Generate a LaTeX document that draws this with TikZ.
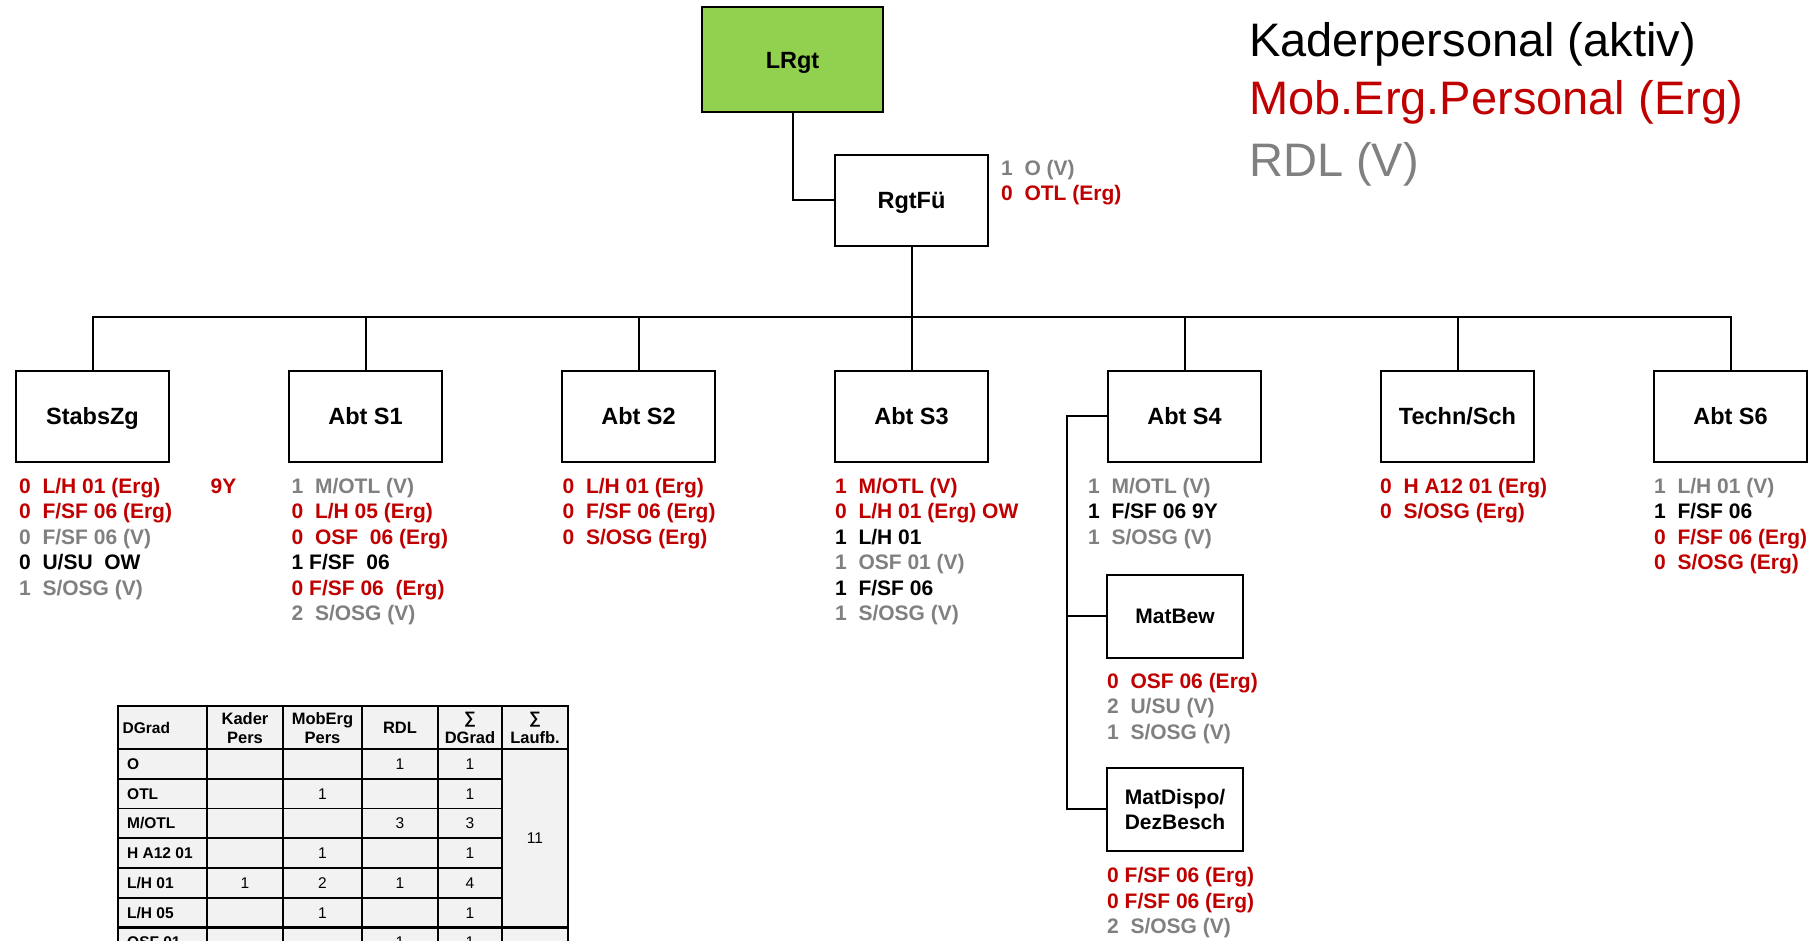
\documentclass[tikz,border=0pt]{standalone}
\usepackage{fontspec}
\setmainfont{Liberation Sans}
\definecolor{myred}{HTML}{C00000}
\definecolor{mygray}{HTML}{808080}
\definecolor{mygreen}{HTML}{92D050}
\definecolor{cellgray}{HTML}{F2F2F2}
\newcommand\Rd[1]{\textcolor{myred}{#1}}
\newcommand\Gy[1]{\textcolor{mygray}{#1}}
\newcommand\Bk[1]{\textcolor{black}{#1}}
\newcommand\tsp{\ \ }
\begin{document}
\begin{tikzpicture}[x=1pt,y=-1pt,
  conn/.style={line width=2pt, line join=miter},
  boxbase/.style={draw, line width=2pt, fill=white, inner sep=0pt, align=center},
  box/.style={boxbase, minimum width=153pt, minimum height=91pt, font=\fontsize{23.5}{26}\selectfont\bfseries, text height=17pt, text depth=0pt},
  subbox/.style={boxbase, minimum width=136pt, minimum height=83pt, font=\fontsize{21}{25}\selectfont\bfseries},
  lbl/.style={anchor=base west, inner sep=0pt, font=\fontsize{21}{25.5}\selectfont\bfseries, align=left},
  legend/.style={anchor=base west, inner sep=0pt, font=\fontsize{47}{58}\selectfont},
  thead/.style={inner sep=0pt, font=\fontsize{16.5}{19.7}\selectfont\bfseries, align=center},
  trow/.style={anchor=west, inner sep=0pt, font=\fontsize{15.5}{18}\selectfont\bfseries},
  tnum/.style={inner sep=0pt, font=\fontsize{15.5}{18}\selectfont},
]
\useasboundingbox (0,0) rectangle (1814,940);

% boxes
\node[box, fill=mygreen, minimum width=181pt, minimum height=105pt] (LRgt) at (792.5,59.5) {LRgt};
\node[box] (RgtFu) at (911.5,200) {RgtFü};
\node[box] (StabsZg) at (92.5,416) {StabsZg};
\node[box] (S1) at (365.5,416) {Abt S1};
\node[box] (S2) at (638.5,416) {Abt S2};
\node[box] (S3) at (911.5,416) {Abt S3};
\node[box] (S4) at (1184.5,416) {Abt S4};
\node[box] (Techn) at (1457.5,416) {Techn/Sch};
\node[box] (S6) at (1730.5,416) {Abt S6};
\node[subbox, text height=15pt, text depth=0pt] (MatBew) at (1175,616) {MatBew};
\node[subbox] (MatDispo) at (1175,809) {MatDispo/\\DezBesch};

% connectors
\coordinate (bus) at (0,317);
\draw[conn] (LRgt.south) |- (RgtFu.west);
\foreach \n in {StabsZg,S1,S2,S3,S4,Techn,S6}
  \draw[conn] (RgtFu.south) -- (RgtFu.south |- bus) -| (\n.north);
\draw[conn] (S4.west) -- ++(-40,0) |- (MatBew.west);
\draw[conn] (S4.west) -- ++(-40,0) |- (MatDispo.west);

% legend
\node[legend] (lg1) at (1249,56.7) {Kaderpersonal (aktiv)};
\node[legend, text=myred] (lg2) at (1249,114) {Mob.Erg.Personal (Erg)};
\node[legend, text=mygray] (lg3) at (1249,176.7) {RDL (V)};

% labels (base anchor = baseline of the last line)
\node[lbl] (lRgtFu) at (1001,200.5) {\Gy{1\tsp O (V)}\\\Rd{0\tsp OTL (Erg)}};
\node[lbl] (lStabsZg) at (19,595) {\Rd{0\tsp L/H 01 (Erg)}\\\Rd{0\tsp F/SF 06 (Erg)}\\\Gy{0\tsp F/SF 06 (V)}\\\Bk{0\tsp U/SU\tsp OW}\\\Gy{1\tsp S/OSG (V)}};
\node[lbl, text=myred] (l9Y) at (210.5,493) {9Y};
\node[lbl] (lS1) at (291.5,620.5) {\Gy{1\tsp M/OTL (V)}\\\Rd{0\tsp L/H 05 (Erg)}\\\Rd{0\tsp OSF\tsp 06 (Erg)}\\\Bk{1 F/SF\tsp 06}\\\Rd{0 F/SF 06\tsp (Erg)}\\\Gy{2\tsp S/OSG (V)}};
\node[lbl] (lS2) at (562.5,544) {\Rd{0\tsp L/H 01 (Erg)}\\\Rd{0\tsp F/SF 06 (Erg)}\\\Rd{0\tsp S/OSG (Erg)}};
\node[lbl] (lS3) at (835,620.5) {\Rd{1\tsp M/OTL (V)}\\\Rd{0\tsp L/H 01 (Erg) OW}\\\Bk{1\tsp L/H 01}\\\Gy{1\tsp OSF 01 (V)}\\\Bk{1\tsp F/SF 06}\\\Gy{1\tsp S/OSG (V)}};
\node[lbl] (lS4) at (1088,544) {\Gy{1\tsp M/OTL (V)}\\\Bk{1\tsp F/SF 06 9Y}\\\Gy{1\tsp S/OSG (V)}};
\node[lbl] (lTechn) at (1380,518.5) {\Rd{0\tsp H A12 01 (Erg)}\\\Rd{0\tsp S/OSG (Erg)}};
\node[lbl] (lS6) at (1654,569.5) {\Gy{1\tsp L/H 01 (V)}\\\Bk{1\tsp F/SF 06}\\\Rd{0\tsp F/SF 06 (Erg)}\\\Rd{0\tsp S/OSG (Erg)}};
\node[lbl] (lMatBew) at (1107,739.3) {\Rd{0\tsp OSF 06 (Erg)}\\\Gy{2\tsp U/SU (V)}\\\Gy{1\tsp S/OSG (V)}};
\node[lbl] (lMatDispo) at (1107,933.7) {\Rd{0 F/SF 06 (Erg)}\\\Rd{0 F/SF 06 (Erg)}\\\Gy{2\tsp S/OSG (V)}};

% table
\fill[cellgray] (118,706) rectangle (568,975);
\foreach \yy in {779,808.5,838,868,898}
  \draw[line width=1.5pt] (118,\yy) -- (502,\yy);
\draw[line width=1.5pt] (118,749) -- (568,749);
\foreach \xx in {207,283,362,438,502}
  \draw[line width=1.5pt] (\xx,706) -- (\xx,975);
\draw[line width=2.5pt] (118,927.5) -- (568,927.5);
\draw[line width=2.5pt] (118,706) rectangle (568,975);

\node[trow] (hDG) at (122.5,728) {DGrad};
\node[thead] (hKP) at (245,728) {Kader\\Pers};
\node[thead] (hMP) at (322.5,728) {MobErg\\Pers};
\node[thead] (hRD) at (400,728) {RDL};
\node[thead] (hSD) at (470,728) {∑\\DGrad};
\node[thead] (hSL) at (535,728) {∑\\Laufb.};

\node[trow] (r1) at (127,764) {O};
\node[trow] (r2) at (127,793.7) {OTL};
\node[trow] (r3) at (127,823) {M/OTL};
\node[trow] (r4) at (127,853) {H A12 01};
\node[trow] (r5) at (127,883) {L/H 01};
\node[trow] (r6) at (127,912.7) {L/H 05};
\node[trow] (r7) at (127,942) {OSF 01};

\foreach \xx/\yy/\tt [count=\i] in {400/764/1, 470/764/1, 322.5/793.7/1, 470/793.7/1, 400/823/3, 470/823/3, 322.5/853/1, 470/853/1, 245/883/1, 322.5/883/2, 400/883/1, 470/883/4, 322.5/912.7/1, 470/912.7/1, 400/942/1, 470/942/1, 535/838/11}
  \node[tnum] (n\i) at (\xx,\yy) {\tt};
\end{tikzpicture}
\end{document}
